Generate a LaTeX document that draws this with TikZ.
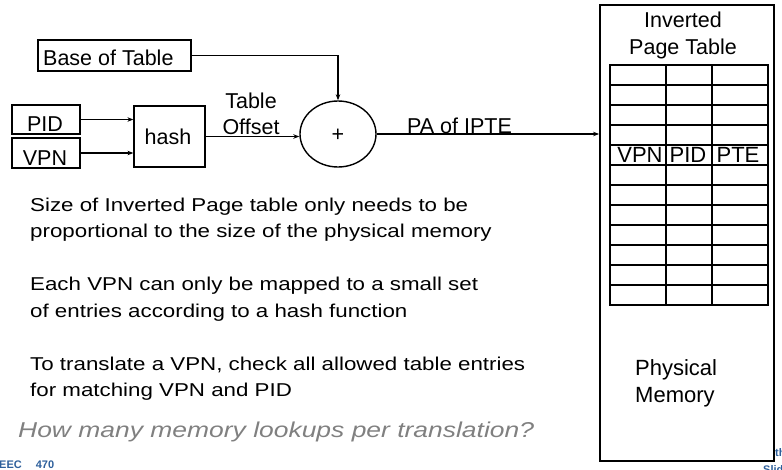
\documentclass[tikz,border=0pt]{standalone}
\usepackage{fontspec}
\setmainfont{Liberation Sans}
\newfontfamily\widefont[FakeStretch=1.2]{Liberation Sans}
\newfontfamily\qfont[FakeStretch=1.23]{Liberation Sans}
\usetikzlibrary{arrows.meta,shapes.geometric}
\definecolor{footblue}{RGB}{45,95,155}
\definecolor{qgray}{RGB}{128,128,128}
\begin{document}
\begin{tikzpicture}[x=1pt,y=-1pt,
  box/.style={draw,line width=1.8pt,inner sep=0pt},
  conn/.style={line width=1.2pt,-{Stealth[length=6pt,width=4.5pt]}},
  lbl/.style={inner sep=0pt,anchor=base west,font=\fontsize{21.5}{25}\selectfont},
  clbl/.style={inner sep=0pt,anchor=base,font=\fontsize{21.5}{25}\selectfont},
  body/.style={inner sep=0pt,anchor=base west,font=\fontsize{18.6}{23}\widefont},
  foot/.style={inner sep=0pt,anchor=base west,text=footblue,font=\fontsize{11}{13}\selectfont\bfseries},
]
\useasboundingbox (0,0) rectangle (782,469);
% footer fragments (partly outside the page, as in the reference)
\node[foot] (fth) at (775,456) {th};
\node[foot] (fsl) at (763,473) {Slide};
\node[foot] (feec) at (-1,468) {EEC\hspace{14pt}470};
% physical memory
\node[box,fill=white,minimum width=174pt,minimum height=456pt] (mem) at (687,233) {};
\node[clbl] (inv1) at (683,27) {Inverted};
\node[clbl] (inv2) at (683,54) {Page Table};
% table grid
\draw[line width=1.6pt] (610,65) rectangle (768,305);
\foreach \yy in {85,105,...,285} \draw[line width=1.4pt] (610,\yy) -- (768,\yy);
\draw[line width=1.4pt] (666,65) -- (666,305);
\draw[line width=1.4pt] (712,65) -- (712,305);
\node[clbl,font=\fontsize{22}{25}\selectfont] (tvpn) at (640,162) {VPN};
\node[clbl,font=\fontsize{22}{25}\selectfont] (tpid) at (688,162) {PID};
\node[clbl,font=\fontsize{22}{25}\selectfont] (tpte) at (738,162) {PTE};
\node[lbl,font=\fontsize{22}{25}\selectfont] (phys) at (635,375) {Physical};
\node[lbl,font=\fontsize{22}{25}\selectfont] (memt) at (635,402) {Memory};
% left diagram
\node[box,minimum width=153pt,minimum height=31pt] (base) at (114.5,55.5) {};
\node[lbl] (baset) at (43,65) {Base of Table};
\node[box,minimum width=68pt,minimum height=29pt] (pid) at (46,119.5) {};
\node[clbl] (pidt) at (45,131) {PID};
\node[box,minimum width=68pt,minimum height=30pt] (vpn) at (46,153) {};
\node[clbl] (vpnt) at (45,165) {VPN};
\node[box,line width=1.2pt,minimum width=71pt,minimum height=61pt] (hash) at (169.5,136.5) {};
\node[clbl] (hasht) at (168,144) {hash};
\node[draw,ellipse,line width=1.4pt,minimum width=76pt,minimum height=66pt,inner sep=0pt] (add) at (338,134) {};
\node[clbl] (plus) at (338,141) {+};
\node[clbl] (tab1) at (251,108) {Table};
\node[clbl] (tab2) at (251,134) {Offset};
\node[lbl] (pa) at (407,133) {PA of IPTE};
% connectors
\draw[conn] (pid.east) -- (pid.east -| hash.west);
\draw[conn] (vpn.east) -- (vpn.east -| hash.west);
\draw[conn] (hash.east) -- (hash.east -| add.west);
\draw[conn] (base.east) -| (add.north);
\draw[conn] (add.east) -- (add.east -| mem.west);
% body text
\node[body] (s1) at (30,211) {Size of Inverted Page table only needs to be};
\node[body] (s2) at (30,237) {proportional to the size of the physical memory};
\node[body] (s3) at (30,290) {Each VPN can only be mapped to a small set};
\node[body] (s4) at (30,317) {of entries according to a hash function};
\node[body] (s5) at (30,370) {To translate a VPN, check all allowed table entries};
\node[body] (s6) at (30,396) {for matching VPN and PID};
\node[inner sep=0pt,anchor=base west,text=qgray,font=\fontsize{21.5}{25}\qfont\itshape] (q) at (18,437) {How many memory lookups per translation?};
\end{tikzpicture}
\end{document}
